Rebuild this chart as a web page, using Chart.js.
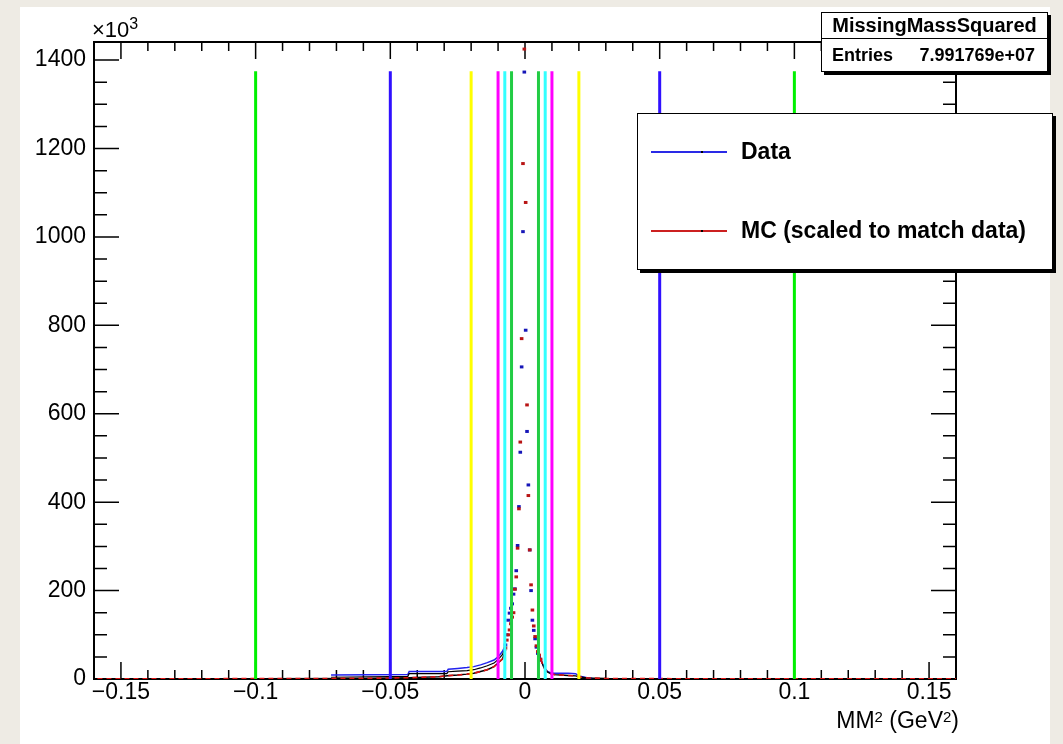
<!DOCTYPE html>
<html>
<head>
<meta charset="utf-8">
<script src="https://cdn.jsdelivr.net/npm/chart.js@4.4.0/dist/chart.umd.min.js"></script>
<style>
  html, body { margin: 0; padding: 0; background: #eeebe4; }
  body { width: 1063px; height: 744px; position: relative; overflow: hidden; font-family: "Liberation Sans", Arial, sans-serif; color: #000; }
  #pad { position: absolute; left: 20px; top: 7px; width: 1030px; height: 737px; background: #fff; }
  #c { position: absolute; left: 0; top: 0; }
  .box { position: absolute; background: #fff; border: 1.5px solid #000; box-shadow: 3px 3px 0 #000; box-sizing: border-box; }
  #stats { left: 821px; top: 12px; width: 227px; height: 60px; font-weight: bold; }
  #stats .title { height: 25px; border-bottom: 1.5px solid #000; text-align: center; font-size: 20px; line-height: 25px; }
  #stats .row { display: flex; justify-content: space-between; padding: 0 12px 0 10px; font-size: 18px; line-height: 32px; }
  #legend { left: 637px; top: 113px; width: 416px; height: 157px; }
  .lg-line { position: absolute; left: 13px; width: 76px; height: 1.5px; }
  .lg-dot { position: absolute; left: 50px; top: -0.5px; width: 2px; height: 2.5px; background: #000; }
  .lg-text { position: absolute; left: 103px; font-size: 23px; font-weight: bold; line-height: 23px; white-space: nowrap; }
  #mult { position: absolute; left: 92px; top: 19px; font-size: 22px; line-height: 22px; }
  #mult sup { font-size: 16px; position: relative; top: -6px; vertical-align: top; }
  #xtitle { position: absolute; right: 104px; top: 708px; font-size: 23px; line-height: 24px; white-space: nowrap; }
  #xtitle sup { font-size: 15px; vertical-align: top; position: relative; top: -3px; }
</style>
</head>
<body>
<div id="pad"></div>
<canvas id="c" width="1063" height="744"></canvas>
<div id="mult">&times;10<sup>3</sup></div>
<div id="xtitle">MM<sup>2</sup> (GeV<sup>2</sup>)</div>
<div id="stats" class="box">
  <div class="title">MissingMassSquared</div>
  <div class="row"><span>Entries</span><span>7.991769e+07</span></div>
</div>
<div id="legend" class="box">
  <div class="lg-line" style="top:37px;background:#2a2ae6"><div class="lg-dot"></div></div>
  <div class="lg-text" style="top:26px">Data</div>
  <div class="lg-line" style="top:116px;background:#cc2020"><div class="lg-dot"></div></div>
  <div class="lg-text" style="top:105px">MC (scaled to match data)</div>
</div>
<script>
// axis ticks
const xTickVals = [-0.15, -0.1, -0.05, 0, 0.05, 0.1, 0.15];
const xTickLabels = ['\u22120.15', '\u22120.1', '\u22120.05', '0', '0.05', '0.1', '0.15'];
const yTickVals = [0, 200, 400, 600, 800, 1000, 1200, 1400];
const yTickLabels = ['0', '200', '400', '600', '800', '1000', '1200', '1400'];

// cut lines (MM^2 windows)
const cutX = [-0.1, -0.05, -0.02, -0.01, -0.0075, -0.005, 0.005, 0.0075, 0.01, 0.02, 0.05, 0.1];
const cutColours = ['#00f000', '#3010ff', '#ffff00', '#ff00ff', '#33ffff', '#22cc44',
                    '#22cc44', '#33ffff', '#ff00ff', '#ffff00', '#3010ff', '#00f000'];
const cutTop = 1375;

// peak bins (bin width 0.0005), values in 10^3
const peakX = [-0.00725, -0.00675, -0.00625, -0.00575, -0.00525, -0.00475, -0.00425, -0.00375,
               -0.00325, -0.00275, -0.00225, -0.00175, -0.00125, -0.00075, -0.00025,
               0.00025, 0.00075, 0.00125, 0.00175, 0.00225, 0.00275, 0.00325, 0.00375,
               0.00425, 0.00475, 0.00525, 0.00575];
const dataPeak = [77, 100, 133, 149, 160, 170, 192, 204, 245, 302, 390, 513, 706, 1012, 1373,
                  789, 560, 439, 292, 200, 133, 110, 91, 72, 58, 50, 43];
const mcPeak = [70, 88, 100, 111, 125, 140, 150, 203, 231, 296, 385, 536, 770, 1166, 1425,
                1078, 620, 415, 292, 213, 156, 120, 96, 75, 62, 54, 45];

// tails
const leftX = [-0.0072, -0.0084, -0.0100, -0.0115, -0.0140, -0.0165, -0.0190, -0.0215,
               -0.0250, -0.0285, -0.0290, -0.0430, -0.0435, -0.0720];
const dataLeft = [77, 62, 50, 43, 37, 32, 28, 26, 24, 22, 17, 17, 10, 9];
const otherLeft = [72, 55, 44, 36, 30, 25, 21, 19, 18, 16.5, 12, 12, 6, 4];
const mcLeftX = [-0.0072, -0.0084, -0.0100, -0.0115, -0.0140, -0.0165, -0.0190, -0.0215,
                 -0.0250, -0.0288, -0.0320, -0.0430, -0.0600, -0.1000, -0.1600];
const mcLeft = [66, 45, 36, 28, 21, 17, 13, 11, 9, 7.5, 5, 3, 1.5, 0.8, 0.5];
const rightX = [0.0058, 0.0070, 0.0083, 0.0095, 0.0108, 0.0133, 0.0160, 0.0188, 0.0200, 0.0230, 0.0250];
const dataRight = [43, 28, 17, 14, 13, 13, 13, 12, 7, 3, 1.5];
const mcRightX = [0.0058, 0.0070, 0.0083, 0.0095, 0.0108, 0.0133, 0.0160, 0.0188, 0.0200,
                  0.0230, 0.0300, 0.0600, 0.1000, 0.1600];
const mcRight = [45, 26, 16, 12, 10, 9, 8, 7, 5, 2.5, 1.2, 0.6, 0.4, 0.5];

const pts = (xs, ys) => xs.map((x, i) => ({ x: x, y: ys[i] }));
const font = { family: '"Liberation Sans", Arial, sans-serif', size: 23 };

const datasets = [];
cutX.forEach((c, i) => datasets.push({
  data: [{ x: c, y: 0 }, { x: c, y: cutTop }],
  showLine: true, borderColor: cutColours[i], borderWidth: 3, pointRadius: 0, order: 0
}));
const tail = (d, colour, width, dash, order) => ({
  data: d, showLine: true, borderColor: colour, borderWidth: width, borderDash: dash,
  pointRadius: 0, order: order
});
datasets.push(tail(pts(mcLeftX, mcLeft), '#dd1010', 1.6, [5, 4], 1));
datasets.push(tail(pts(mcRightX, mcRight), '#dd1010', 1.6, [5, 4], 1));
datasets.push(tail(pts(mcLeftX, mcLeft), '#000', 1.4, [], 2));
datasets.push(tail(pts(mcRightX, mcRight), '#000', 1.4, [], 2));
datasets.push(tail(pts(leftX, otherLeft), '#000', 1.2, [], 3));
datasets.push(tail(pts(leftX, dataLeft), '#2222ee', 1.5, [], 3));
datasets.push(tail(pts(rightX, dataRight), '#2222ee', 1.5, [], 3));
datasets.push({
  data: pts(peakX, mcPeak), pointStyle: 'line', pointRadius: 1.8, pointBorderWidth: 3,
  pointBorderColor: '#b81414', order: 1
});
datasets.push({
  data: pts(peakX, dataPeak), pointStyle: 'line', pointRadius: 1.8, pointBorderWidth: 3,
  pointBorderColor: '#1616b8', order: 2
});

// frame and inner ticks on all four sides (ROOT style)
const frame = {
  id: 'frame',
  beforeDatasetsDraw(chart) {
    const { ctx, chartArea: a, scales: { x, y } } = chart;
    ctx.save();
    ctx.strokeStyle = '#000';
    ctx.lineWidth = 1.5;
    ctx.beginPath();
    for (let i = -15; i <= 15; i++) {
      const px = x.getPixelForValue(i / 100);
      const len = i % 5 === 0 ? 17 : 9;
      ctx.moveTo(px, a.bottom); ctx.lineTo(px, a.bottom - len);
      ctx.moveTo(px, a.top); ctx.lineTo(px, a.top + len);
    }
    for (let v = 0; v <= 1400; v += 50) {
      const py = y.getPixelForValue(v);
      const len = v % 200 === 0 ? 25 : 13;
      ctx.moveTo(a.left, py); ctx.lineTo(a.left + len, py);
      ctx.moveTo(a.right, py); ctx.lineTo(a.right - len, py);
    }
    ctx.stroke();
    ctx.lineWidth = 2;
    ctx.strokeRect(a.left, a.top, a.right - a.left, a.bottom - a.top);
    ctx.restore();
  }
};

new Chart(document.getElementById('c').getContext('2d'), {
  type: 'scatter',
  data: { datasets },
  options: {
    responsive: false,
    animation: false,
    layout: { padding: { top: 42, right: 107, bottom: 0, left: 0 } },
    plugins: { legend: { display: false }, tooltip: { enabled: false } },
    scales: {
      x: {
        type: 'linear', min: -0.16, max: 0.16,
        grid: { display: false, drawTicks: false }, border: { display: false },
        afterBuildTicks: s => { s.ticks = xTickVals.map(v => ({ value: v })); },
        afterFit: s => { s.height = 65; },
        ticks: { font, color: '#000', padding: 0, maxRotation: 0, autoSkip: false,
                 callback: (v, i) => xTickLabels[i] }
      },
      y: {
        min: 0, max: 1441,
        grid: { display: false, drawTicks: false }, border: { display: false },
        afterBuildTicks: s => { s.ticks = yTickVals.map(v => ({ value: v })); },
        afterFit: s => { s.width = 94; },
        ticks: { font, color: '#000', padding: 8, autoSkip: false,
                 callback: (v, i) => yTickLabels[i] }
      }
    }
  },
  plugins: [frame]
});
</script>
</body>
</html>
